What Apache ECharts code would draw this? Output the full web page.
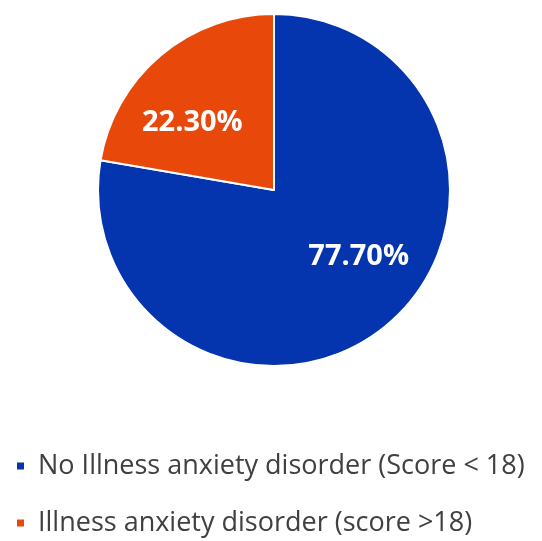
<!DOCTYPE html>
<html>
<head>
<meta charset="utf-8">
<script src="https://cdn.jsdelivr.net/npm/echarts@6/dist/echarts.min.js"></script>
<style>
  html, body { margin: 0; padding: 0; background: #fff; }
  #chart { width: 542px; height: 541px; }
</style>
</head>
<body>
<div id="chart"></div>
<script>
const categories = ['No Illness anxiety disorder (Score < 18)', 'Illness anxiety disorder (score >18)']
const values = [77.7, 22.3]
const colors = ['#0435AE', '#E8490B']
// nudge labels to where the original puts them
const labelOffsets = [[26, -3], [-23, 2]]

const chart = echarts.init(document.getElementById('chart'))
const seriesData = categories.map((name, i) => {
  return {
    name: name,
    value: values[i],
    itemStyle: { color: colors[i] },
    label: { offset: labelOffsets[i] }
  }
})
const option = {
  animation: false,
  legend: {
    orient: 'vertical',
    left: 15,
    top: 451,
    padding: 0,
    itemGap: 27,
    itemWidth: 9,
    itemHeight: 9,
    icon: 'rect',
    textStyle: {
      color: '#404040',
      fontSize: 27,
      lineHeight: 30,
      fontFamily: 'Open Sans',
      padding: [0, 0, 0, 8]
    },
    data: categories
  },
  series: [
    {
      type: 'pie',
      center: [274, 190],
      radius: 176,
      startAngle: 90,
      clockwise: true,
      itemStyle: {
        borderColor: '#ffffff',
        borderWidth: 2
      },
      label: {
        show: true,
        position: 'inside',
        color: '#ffffff',
        fontSize: 29,
        fontWeight: 'bold',
        fontFamily: 'Open Sans',
        formatter: (params) => params.value.toFixed(2) + '%'
      },
      labelLine: { show: false },
      data: seriesData
    }
  ]
}
chart.setOption(option)
</script>
</body>
</html>
